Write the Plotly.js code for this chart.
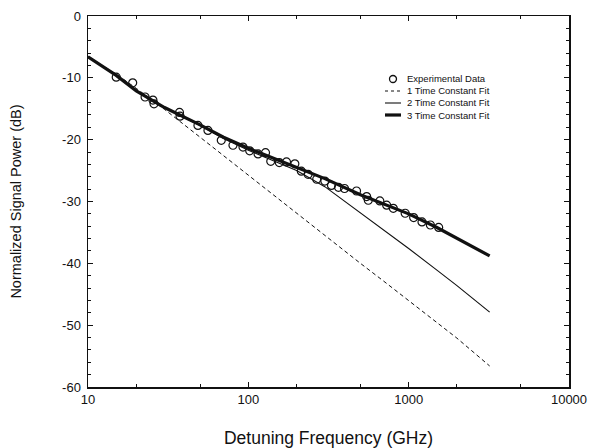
<!DOCTYPE html>
<html>
<head>
<meta charset="utf-8">
<script src="https://cdn.plot.ly/plotly-3.0.1.min.js"></script>
<style>html,body{margin:0;padding:0;background:#fff;}#chart{width:598px;height:448px;}</style>
</head>
<body>
<div id="chart"></div>
<script>
// Experimental data (GHz, dB)
const dataFreq = [15, 19, 22.7, 25.4, 25.8, 37.2, 37.5, 48.5, 56, 67.8, 80.2, 92.6, 102, 115, 128, 138, 156, 173, 195, 214, 236, 267, 300, 330, 365, 398, 473, 547, 560, 661, 729, 802, 951, 1074, 1211, 1366, 1539];
const dataPower = [-9.9, -10.8, -13.1, -13.6, -14.2, -15.6, -16.2, -17.7, -18.5, -20.1, -20.9, -21.2, -21.8, -22.3, -22.1, -23.5, -23.7, -23.6, -23.9, -25.1, -25.6, -26.4, -26.7, -27.4, -27.7, -27.9, -28.3, -29.2, -29.8, -29.9, -30.6, -31.1, -31.9, -32.6, -33.3, -33.8, -34.2];

// Fit curves sampled at these frequencies (GHz)
const fitFreq = [10, 15, 20, 30, 50, 70, 100, 150, 200, 300, 500, 700, 1000, 1500, 2000, 3200];
const fit1TC = [-6.6, -9.4, -11.7, -15.1, -19.6, -22.6, -25.8, -29.4, -31.9, -35.5, -40.0, -42.9, -46.0, -49.6, -52.1, -56.6];
const fit2TC = [-6.6, -9.6, -12.1, -14.8, -17.7, -19.8, -21.7, -23.6, -25.0, -27.6, -31.8, -34.6, -37.6, -41.1, -43.6, -47.9];
const fit3TC = [-6.6, -9.6, -12.1, -14.8, -17.6, -19.6, -21.4, -23.2, -24.4, -26.3, -28.9, -30.4, -32.0, -34.2, -35.9, -38.8];

const seriesNames = ['Experimental Data', '1 Time Constant Fit', '2 Time Constant Fit', '3 Time Constant Fit'];

const xTickVals = [10, 100, 1000, 10000];
const xTickText = ['10', '100', '1000', '10000'];
const yTickVals = [0, -10, -20, -30, -40, -50, -60];
const yTickText = ['0', '-10', '-20', '-30', '-40', '-50', '-60'];

const ink = '#111111';
const font = 'Liberation Sans, Arial, Helvetica, sans-serif';

const markerStyle = {symbol: 'circle-open', size: 8, color: ink, line: {width: 1.2, color: ink}};
const lineStyles = [
  null,
  {color: ink, width: 1, dash: '4px,3px'},
  {color: ink, width: 1.1},
  {color: ink, width: 3.2}
];

const traces = [
  {x: dataFreq, y: dataPower, name: seriesNames[0], type: 'scatter', mode: 'markers', marker: markerStyle, showlegend: false},
  {x: fitFreq, y: fit1TC, name: seriesNames[1], type: 'scatter', mode: 'lines', line: lineStyles[1], showlegend: false},
  {x: fitFreq, y: fit2TC, name: seriesNames[2], type: 'scatter', mode: 'lines', line: lineStyles[2], showlegend: false},
  {x: fitFreq, y: fit3TC, name: seriesNames[3], type: 'scatter', mode: 'lines', line: lineStyles[3], showlegend: false}
];

// Compact legend (drawn in paper space, like the original's tight key)
const plotL = 88, plotR = 569, plotT = 16, plotB = 387;
const px = v => (v - plotL) / (plotR - plotL);
const py = v => (plotB - v) / (plotB - plotT);
const legendRowsPx = [79, 91, 103, 115];
const symX0 = 385, symX1 = 401, textX = 406;

const shapes = [];
const annotations = [];
seriesNames.forEach((name, i) => {
  const yc = py(legendRowsPx[i]);
  if (i === 0) {
    shapes.push({type: 'circle', xref: 'paper', yref: 'paper',
      x0: px(393 - 3.5), x1: px(393 + 3.5), y0: py(legendRowsPx[i] + 3.5), y1: py(legendRowsPx[i] - 3.5),
      line: {color: ink, width: 1.3}});
  } else {
    const ls = lineStyles[i];
    shapes.push({type: 'line', xref: 'paper', yref: 'paper', x0: px(symX0), x1: px(symX1), y0: yc, y1: yc,
      line: {color: ink, width: ls.width, dash: ls.dash ? '3px,3px' : 'solid'}});
  }
  annotations.push({xref: 'paper', yref: 'paper', x: px(textX), y: yc, xanchor: 'left', yanchor: 'middle',
    text: name, showarrow: false, borderpad: 0, font: {size: 9.5, family: font, color: ink}});
});

const layout = {
  width: 598, height: 448,
  margin: {l: plotL, r: 598 - plotR, t: plotT, b: 448 - plotB},
  paper_bgcolor: '#fff', plot_bgcolor: '#fff',
  font: {family: font, color: ink, size: 13},
  showlegend: false,
  shapes: shapes,
  annotations: annotations,
  xaxis: {
    type: 'log', range: [1, 4], tickmode: 'array', tickvals: xTickVals, ticktext: xTickText,
    ticks: 'inside', ticklen: 5, tickwidth: 1, tickcolor: ink,
    minor: {ticks: 'inside', ticklen: 3, tickcolor: ink, dtick: 'D2', showgrid: false},
    showline: true, linecolor: ink, linewidth: 1.5, mirror: 'ticks',
    showgrid: false, zeroline: false, tickfont: {size: 13},
    title: {text: 'Detuning Frequency (GHz)', font: {size: 17.5}, standoff: 28}
  },
  yaxis: {
    range: [-60, 0], tickmode: 'array', tickvals: yTickVals, ticktext: yTickText,
    ticks: 'inside', ticklen: 5, tickwidth: 1, tickcolor: ink,
    minor: {ticks: 'inside', ticklen: 3, tickcolor: ink, dtick: 2, showgrid: false},
    showline: true, linecolor: ink, linewidth: 1.5, mirror: 'ticks',
    showgrid: false, zeroline: false, tickfont: {size: 13}, ticklabelstandoff: 3,
    title: {text: 'Normalized Signal Power (dB)', font: {size: 14.5}, standoff: 37}
  }
};

Plotly.newPlot('chart', traces, layout, {displayModeBar: false, staticPlot: true});
</script>
</body>
</html>
